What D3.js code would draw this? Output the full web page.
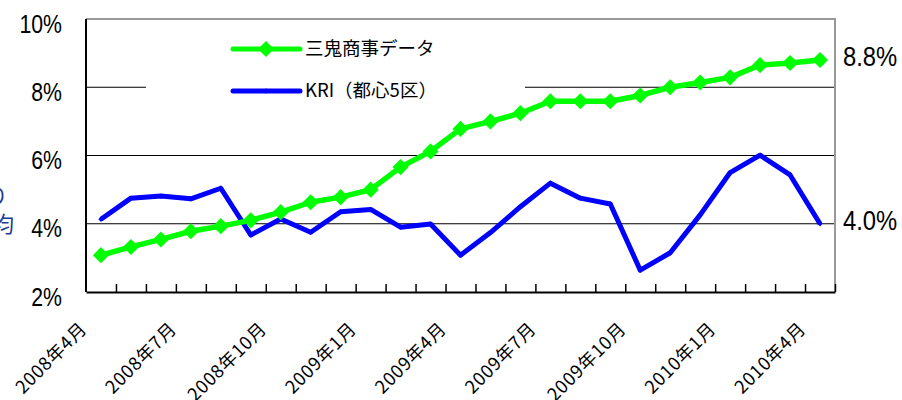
<!DOCTYPE html>
<html>
<head>
<meta charset="utf-8">
<script src="https://cdn.jsdelivr.net/npm/d3@7"></script>
<style>
  body { margin: 0; background: #fff; }
  svg { display: block; }
</style>
</head>
<body>
<div id="chart"></div>
<script>
// months 2008/4 - 2010/4
const months = [
  "2008年4月", "2008年5月", "2008年6月", "2008年7月", "2008年8月", "2008年9月",
  "2008年10月", "2008年11月", "2008年12月", "2009年1月", "2009年2月", "2009年3月",
  "2009年4月", "2009年5月", "2009年6月", "2009年7月", "2009年8月", "2009年9月",
  "2009年10月", "2009年11月", "2009年12月", "2010年1月", "2010年2月", "2010年3月",
  "2010年4月"
];
const tickLabels = ["2008年4月", "2008年7月", "2008年10月", "2009年1月", "2009年4月",
  "2009年7月", "2009年10月", "2010年1月", "2010年4月"];

// 三鬼商事データ (%)
const sankiValues = [3.08, 3.32, 3.54, 3.78, 3.93, 4.10, 4.34, 4.63, 4.78, 5.00, 5.66, 6.12,
  6.78, 7.00, 7.24, 7.59, 7.59, 7.59, 7.76, 8.00, 8.14, 8.29, 8.65, 8.71, 8.80];
// KRI(都心5区) (%)
const kriValues = [4.13, 4.75, 4.81, 4.73, 5.04, 3.67, 4.14, 3.75, 4.35, 4.42, 3.90, 3.99,
  3.08, 3.74, 4.50, 5.19, 4.75, 4.58, 2.64, 3.15, 4.26, 5.50, 6.01, 5.43, 4.00];

const yTicks = [2, 4, 6, 8, 10];
const gridValues = [4, 6, 8];
const seriesNames = ["三鬼商事データ", "KRI（都心5区）"];
const endLabels = ["8.8%", "4.0%"];

const width = 902, height = 400;
const margin = { top: 19, right: 67, bottom: 108, left: 86 };
const narrow = 0.85; // squeeze for the number labels
const numFont = "'Liberation Sans', Arial, sans-serif";
const jpFont = "'Noto Sans CJK JP', sans-serif";

const svg = d3.select("#chart")
  .append("svg")
  .attr("width", width)
  .attr("height", height);

const x = d3.scaleBand()
  .domain(months)
  .range([margin.left, width - margin.right])
  .padding(0);

// category boundaries for the tick marks
const xb = d3.scaleLinear()
  .domain([0, months.length])
  .range([margin.left, width - margin.right]);

const y = d3.scaleLinear()
  .domain([2, 10])
  .range([height - margin.bottom, margin.top]);

const cx = d => x(d) + x.bandwidth() / 2;

// gridlines
svg.append("g")
  .selectAll("line")
  .data(gridValues)
  .join("line")
  .attr("x1", margin.left)
  .attr("x2", width - margin.right)
  .attr("y1", d => y(d))
  .attr("y2", d => y(d))
  .attr("stroke", "#000")
  .attr("stroke-width", 1);

// top and right frame
svg.append("path")
  .attr("d", `M${margin.left},${y(10)}H${width - margin.right}V${y(2)}`)
  .attr("fill", "none")
  .attr("stroke", "#999")
  .attr("stroke-width", 2);

// legend background hides part of the 8% line
const legend = svg.append("g");
legend.append("rect")
  .attr("x", 146)
  .attr("y", 28)
  .attr("width", 379)
  .attr("height", 82)
  .attr("fill", "#fff");

// left axis
svg.append("g")
  .attr("transform", `translate(${margin.left},0)`)
  .call(d3.axisLeft(y).tickValues(yTicks).tickSize(0).tickPadding(24).tickFormat(d => d + "%"))
  .call(g => g.select(".domain").remove())
  .selectAll("text")
  .attr("x", -24 / narrow)
  .attr("y", 5)
  .attr("transform", `scale(${narrow},1)`)
  .attr("font-family", numFont)
  .attr("font-size", 25)
  .attr("fill", "#000");

svg.append("line")
  .attr("x1", margin.left).attr("x2", margin.left)
  .attr("y1", y(10)).attr("y2", y(2))
  .attr("stroke", "#000").attr("stroke-width", 2);

// bottom axis: tick marks at category boundaries
svg.append("g")
  .attr("transform", `translate(0,${y(2)})`)
  .call(d3.axisBottom(xb).tickValues(d3.range(1, months.length + 1)).tickSize(-8).tickSizeOuter(0).tickFormat(""))
  .call(g => g.select(".domain").attr("stroke", "#000").attr("stroke-width", 2))
  .call(g => g.selectAll(".tick line").attr("stroke", "#000").attr("stroke-width", 1.5));

// bottom axis labels
svg.append("g")
  .attr("transform", `translate(0,${y(2)})`)
  .call(d3.axisBottom(x).tickValues(tickLabels).tickSize(0))
  .call(g => g.select(".domain").remove())
  .selectAll("text")
  .attr("x", 0)
  .attr("y", 0)
  .attr("dy", 0)
  .attr("text-anchor", "end")
  .attr("transform", "translate(-13,38) rotate(-45)")
  .attr("font-family", jpFont)
  .attr("font-size", 18)
  .attr("letter-spacing", 0.8)
  .attr("fill", "#000");

// lines
const line = d3.line()
  .x((d, i) => cx(months[i]))
  .y(d => y(d));

const diamond = size => d3.symbol().type(d3.symbolSquare).size(size);

svg.append("path")
  .datum(kriValues)
  .attr("fill", "none")
  .attr("stroke", "#0000ff")
  .attr("stroke-width", 5)
  .attr("stroke-linejoin", "round")
  .attr("d", line);

svg.append("g")
  .selectAll("path")
  .data(kriValues)
  .join("path")
  .attr("d", diamond(14))
  .attr("transform", (d, i) => `translate(${cx(months[i])},${y(d)}) rotate(45)`)
  .attr("fill", "#0000ff");

svg.append("path")
  .datum(sankiValues)
  .attr("fill", "none")
  .attr("stroke", "#00ff00")
  .attr("stroke-width", 5.5)
  .attr("stroke-linejoin", "round")
  .attr("d", line);

svg.append("g")
  .selectAll("path")
  .data(sankiValues)
  .join("path")
  .attr("d", diamond(130))
  .attr("transform", (d, i) => `translate(${cx(months[i])},${y(d)}) rotate(45)`)
  .attr("fill", "#00ff00");

// legend
const legendItems = [
  { name: seriesNames[0], color: "#00ff00", marker: 130, ly: 49 },
  { name: seriesNames[1], color: "#0000ff", marker: 14, ly: 91 }
];
legendItems.forEach(item => {
  legend.append("line")
    .attr("x1", 233).attr("x2", 300)
    .attr("y1", item.ly).attr("y2", item.ly)
    .attr("stroke", item.color)
    .attr("stroke-width", 5)
    .attr("stroke-linecap", "round");
  legend.append("path")
    .attr("d", diamond(item.marker))
    .attr("transform", `translate(266,${item.ly}) rotate(45)`)
    .attr("fill", item.color);
  legend.append("text")
    .attr("x", 305)
    .attr("y", item.ly)
    .attr("dy", "0.35em")
    .attr("font-family", jpFont)
    .attr("font-size", 18.5)
    .attr("fill", "#000")
    .text(item.name);
});

// end value labels
const lastIdx = months.length - 1;
[sankiValues[lastIdx], kriValues[lastIdx]].forEach((v, i) => {
  svg.append("text")
    .attr("x", 843 / narrow)
    .attr("y", y(v) - 4)
    .attr("dy", "0.35em")
    .attr("transform", `scale(${narrow},1)`)
    .attr("font-family", numFont)
    .attr("font-size", 28)
    .attr("fill", "#000")
    .text(endLabels[i]);
});

// clipped axis title at the left edge
svg.append("g")
  .selectAll("text")
  .data(["り", "均"])
  .join("text")
  .attr("x", (d, i) => i === 0 ? 8 : 14)
  .attr("y", (d, i) => i === 0 ? 204 : 232)
  .attr("text-anchor", "end")
  .attr("font-family", jpFont)
  .attr("font-size", 22)
  .attr("fill", "#1f3a93")
  .text(d => d);
</script>
</body>
</html>
